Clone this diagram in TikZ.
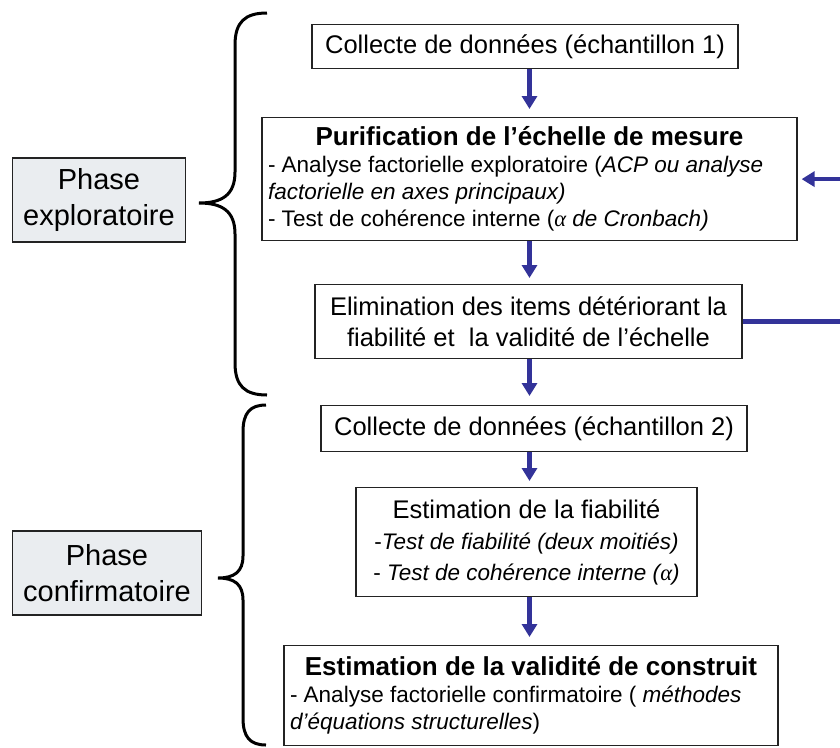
\documentclass[tikz,border=0pt]{standalone}
\usepackage{fontspec}
\setmainfont{Liberation Sans}
\newfontfamily\alphafont{Liberation Serif}
\usepackage{xcolor}
\usepackage{tikz}
\usetikzlibrary{positioning,arrows.meta}
\definecolor{flowblue}{RGB}{51,51,153}
\definecolor{phasegray}{RGB}{234,237,240}
\definecolor{edgegray}{RGB}{35,35,35}
\newcommand{\bodysize}{\fontsize{22.5}{27}\selectfont}
\newcommand{\titlesize}{\fontsize{26}{31}\selectfont\bfseries}
\newcommand{\alphasym}{{\alphafont\itshape α}}

\begin{document}
\begin{tikzpicture}[x=1pt, y=-1pt,
        box/.style={rectangle, draw=edgegray, fill=white, line width=1.2pt,
                   inner sep=4pt, align=center, font=\fontsize{25.5}{31}\selectfont},
        phasebox/.style={box, fill=phasegray, inner xsep=11pt, minimum height=84pt,
                   font=\fontsize{29}{36}\selectfont},
        arrow/.style={-{Triangle[width=15pt,length=13pt]}, line width=4.5pt, flowblue},
        brace/.style={line width=3pt, black}
    ]
        \useasboundingbox (0,0) rectangle (840,747);
        \coordinate (col) at (529.5,0);
        \coordinate (edge) at (840,0);

        % phase labels
        \node[phasebox] (explo) at (99,200) {Phase\\exploratoire};
        \node[phasebox] (confirm) at (107,573) {Phase\\confirmatoire};

        % braces
        \draw[brace] (267,13) .. controls (245,13) and (235,22) .. (235,45) -- (235,172)
            .. controls (235,195) and (222,203) .. (199,203)
            .. controls (222,203) and (235,211) .. (235,234) -- (235,363)
            .. controls (235,386) and (245,395) .. (267,395);
        \draw[brace] (266,405) .. controls (250,405) and (243,413) .. (243,432) -- (243,556)
            .. controls (243,572) and (234,578) .. (218,578)
            .. controls (234,578) and (243,584) .. (243,600) -- (243,718)
            .. controls (243,737) and (250,745) .. (266,745);

        % steps
        \node[box, anchor=north, minimum width=426pt, minimum height=44pt] (collect1) at (525,24)
            {Collecte de données (échantillon 1)};
        \node[box, anchor=north, minimum width=535pt, minimum height=123pt, align=left, font=\bodysize] (purif) at (529.5,117)
            {\makebox[523pt]{\titlesize Purification de l’échelle de mesure}\\
             - Analyse factorielle exploratoire (\textit{ACP ou analyse}\\
             \textit{factorielle en axes principaux)}\\
             - Test de cohérence interne (\textit{\alphasym{} de Cronbach)}};
        \node[box, anchor=north, minimum width=427pt, minimum height=74pt] (elim) at (528.5,284)
            {Elimination des items détériorant la\\fiabilité et\ \ la validité de l’échelle};
        \node[box, anchor=north, minimum width=426pt, minimum height=46pt] (collect2) at (534,405)
            {Collecte de données (échantillon 2)};
        \node[box, anchor=north, minimum width=341pt, minimum height=109pt] (fiab) at (526.5,487)
            {Estimation de la fiabilité\\
             {\bodysize -\textit{Test de fiabilité (deux moitiés)}}\\
             {\bodysize - \textit{Test de cohérence interne (\alphasym)}}};
        \node[box, anchor=north, minimum width=494pt, minimum height=100pt, align=left, font=\bodysize] (valid) at (531,645)
            {\makebox[482pt]{\titlesize Estimation de la validité de construit}\\
             - Analyse factorielle confirmatoire ( \textit{méthodes}\\
             \textit{d’équations structurelles})};

        % flow
        \draw[arrow, shorten >=8pt] (collect1.south -| col) -- (purif.north -| col);
        \draw[arrow, shorten >=6pt] (purif.south -| col) -- (elim.north -| col);
        \draw[arrow, shorten >=9pt] (elim.south -| col) -- (collect2.north -| col);
        \draw[arrow, shorten >=6pt] (collect2.south -| col) -- (fiab.north -| col);
        \draw[arrow, shorten >=8pt] (fiab.south -| col) -- (valid.north -| col);

        % feedback loop (leaves the picture on the right)
        \draw[arrow, -] (elim.east) -- (elim.east -| edge);
        \draw[arrow, shorten >=4pt] (purif.east -| edge) -- (purif.east);
    \end{tikzpicture}
\end{document}
